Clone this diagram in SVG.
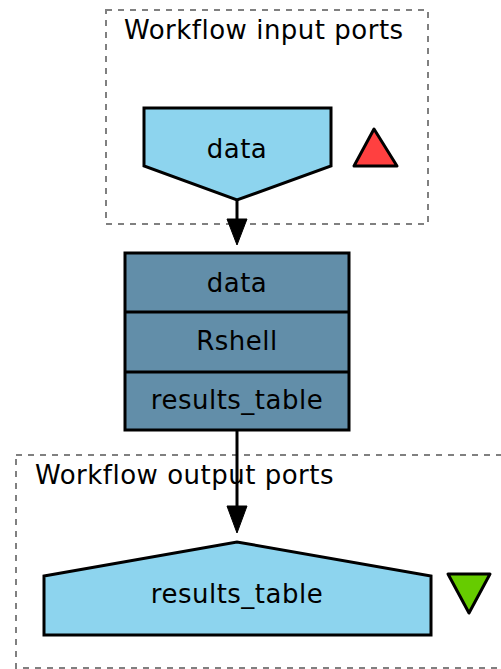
<svg xmlns="http://www.w3.org/2000/svg" width="501" height="669" viewBox="0 0 501 669">
  <style>
    .cluster { fill: none; stroke: #808080; stroke-width: 2; stroke-dasharray: 6,6; }
    .port { fill: #8dd4ee; stroke: #000; stroke-width: 3; }
    .proc { fill: #628ea9; stroke: #000; stroke-width: 3; }
    .lbl { font-family: "DejaVu Sans", sans-serif; font-size: 26px; letter-spacing: 0.5px; fill: #000; }
    .mid { text-anchor: middle; }
    .edge { stroke: #000; stroke-width: 3; fill: none; }
    .head { fill: #000; stroke: #000; stroke-width: 1; }
  </style>

  <!-- input ports cluster -->
  <g id="cluster_inputs">
    <rect class="cluster" x="106" y="10" width="322" height="214"/>
    <text class="lbl" x="124" y="39">Workflow input ports</text>
  </g>

  <!-- output ports cluster -->
  <g id="cluster_outputs">
    <rect class="cluster" x="16" y="455" width="500" height="213"/>
    <text class="lbl" x="35" y="484">Workflow output ports</text>
  </g>

  <!-- connectors -->
  <g id="connectors">
    <line class="edge" x1="237" y1="200" x2="237" y2="222"/>
    <polygon class="head" points="227,219 247,219 237,245"/>
    <line class="edge" x1="237" y1="430" x2="237" y2="508"/>
    <polygon class="head" points="227,506 247,506 237,533"/>
  </g>

  <!-- input port: data -->
  <g id="input_data">
    <polygon class="port" points="144,108 331,108 331,166 237,200 144,166"/>
    <text class="lbl mid" x="237" y="158">data</text>
  </g>

  <g id="input_marker">
    <polygon points="374,129 397,166 354,166" fill="#ff4040" stroke="#000" stroke-width="3" stroke-linejoin="round"/>
  </g>

  <!-- processor: Rshell -->
  <g id="rshell">
    <rect class="proc" x="125" y="253" width="224" height="177"/>
    <line stroke="#000" stroke-width="3" x1="125" y1="312" x2="349" y2="312"/>
    <line stroke="#000" stroke-width="3" x1="125" y1="372" x2="349" y2="372"/>
    <text class="lbl mid" x="237" y="292">data</text>
    <text class="lbl mid" x="237" y="350">Rshell</text>
    <text class="lbl mid" x="237" y="409">results_table</text>
  </g>

  <!-- output port: results_table -->
  <g id="output_results_table">
    <polygon class="port" points="44,576 237,542 431,576 431,635 44,635"/>
    <text class="lbl mid" x="237" y="603">results_table</text>
  </g>

  <g id="output_marker">
    <polygon points="448,574 490,574 469,613" fill="#66cc00" stroke="#000" stroke-width="3" stroke-linejoin="round"/>
  </g>
</svg>
